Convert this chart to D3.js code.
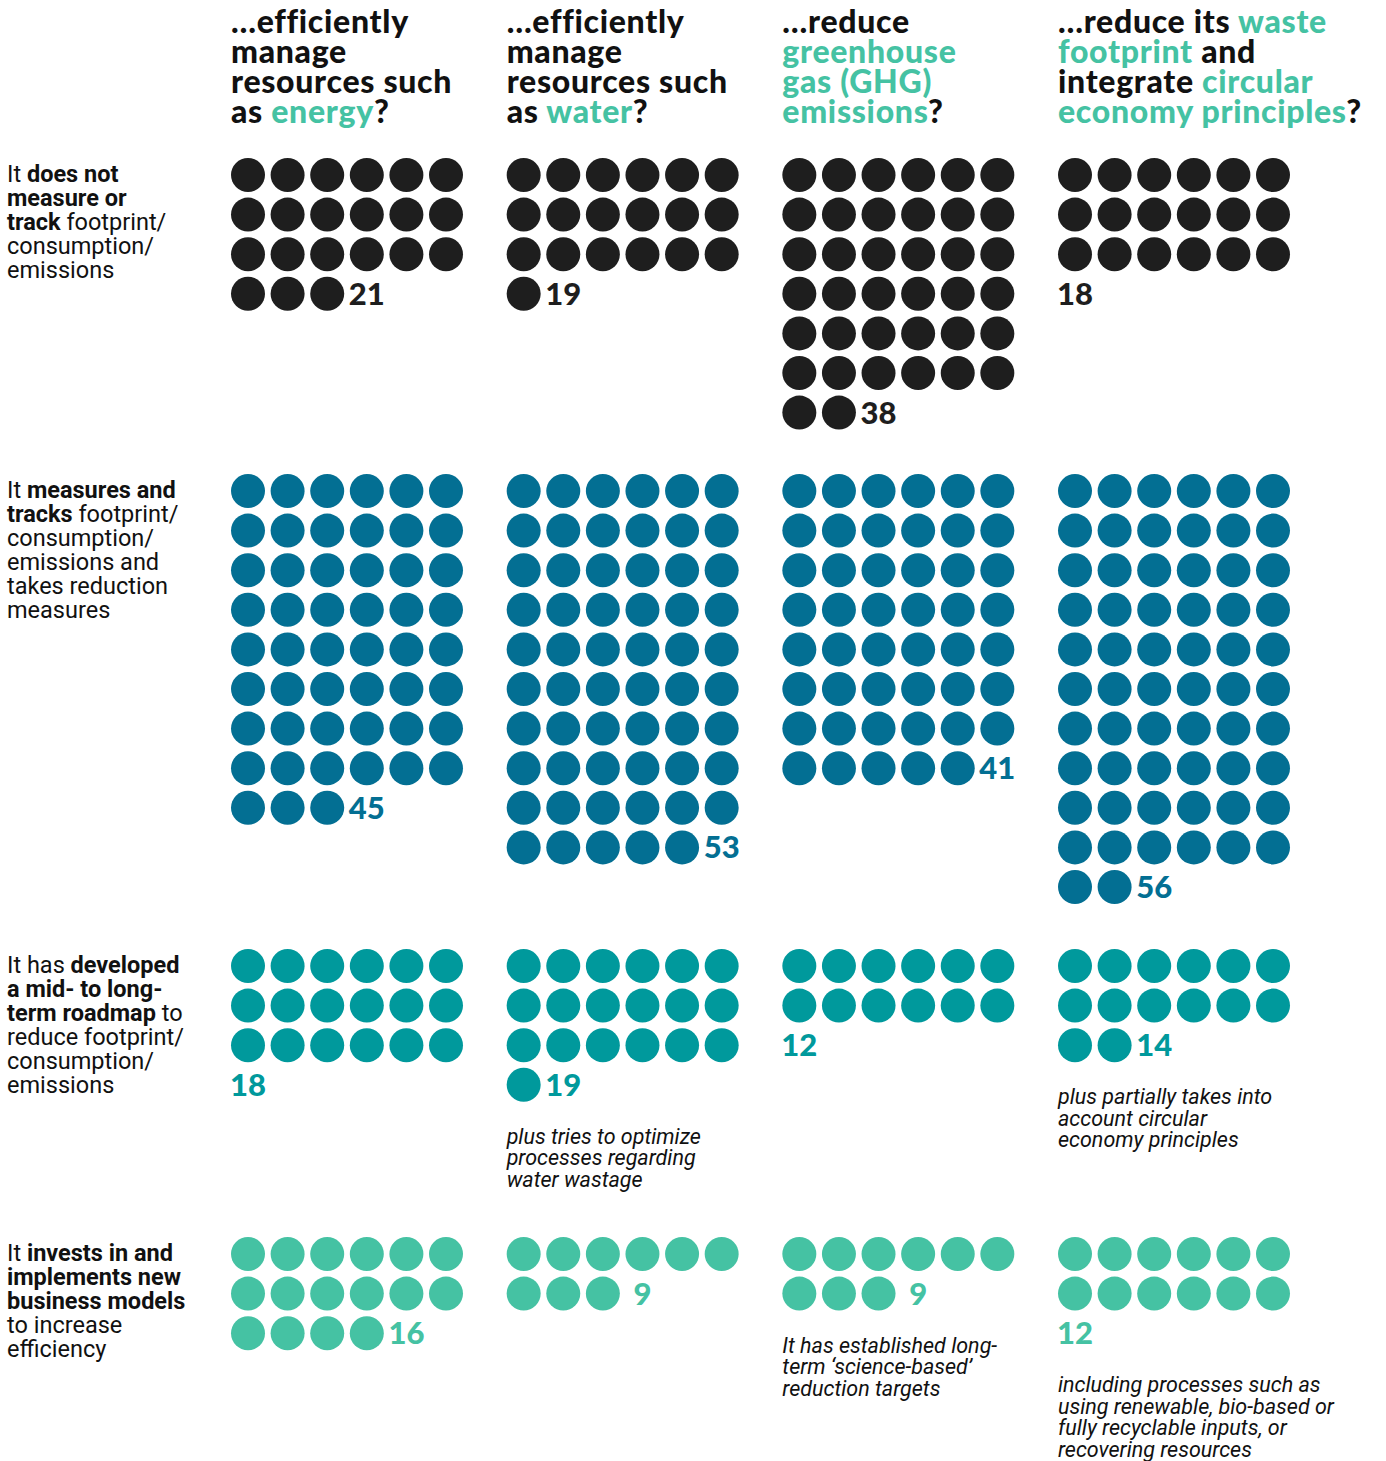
<!DOCTYPE html>
<html>
<head>
<meta charset="utf-8">
<script src="https://cdn.jsdelivr.net/npm/d3@7"></script>
<style>
  body { margin: 0; background: #fff; }
  svg { display: block; }
</style>
</head>
<body>
<svg id="chart"></svg>
<script>
// column questions; each line is a list of [text, highlighted]
const headers = [
    [[["…efficiently", 0]], [["manage", 0]], [["resources such", 0]], [["as ", 0], ["energy", 1], ["?", 0]]],
    [[["…efficiently", 0]], [["manage", 0]], [["resources such", 0]], [["as ", 0], ["water", 1], ["?", 0]]],
    [[["…reduce", 0]], [["greenhouse", 1]], [["gas (GHG)", 1]], [["emissions", 1], ["?", 0]]],
    [[["…reduce its ", 0], ["waste", 1]], [["footprint", 1], [" and", 0]], [["integrate ", 0], ["circular", 1]], [["economy principles", 1], ["?", 0]]]
];
// row labels; [text, bold]
const rowLabels = [
    [[["It ", 0], ["does not", 1]], [["measure or", 1]], [["track", 1], [" footprint/", 0]], [["consumption/", 0]], [["emissions", 0]]],
    [[["It ", 0], ["measures and", 1]], [["tracks", 1], [" footprint/", 0]], [["consumption/", 0]], [["emissions and", 0]], [["takes reduction", 0]], [["measures", 0]]],
    [[["It has ", 0], ["developed", 1]], [["a mid- to long-", 1]], [["term roadmap", 1], [" to", 0]], [["reduce footprint/", 0]], [["consumption/", 0]], [["emissions", 0]]],
    [[["It ", 0], ["invests in and", 1]], [["implements new", 1]], [["business models", 1]], [["to increase", 0]], [["efficiency", 0]]]
];
const rowColors = ["#1e1e1e", "#036f93", "#00999c", "#45c2a3"];

// values shown per stage, per column
const doesNotMeasure = [21, 19, 38, 18];
const measuresTracks = [45, 53, 41, 56];
const hasRoadmap = [18, 19, 12, 14];
const newModels = [16, 9, 9, 12];
// dots drawn in the picture (stage 2 shows six more dots than its label)
const doesNotMeasureDots = [21, 19, 38, 18];
const measuresTracksDots = [51, 59, 47, 62];
const hasRoadmapDots = [18, 19, 12, 14];
const newModelsDots = [16, 9, 9, 12];

const notes = [
    { row: 2, col: 1, lines: ["plus tries to optimize", "processes regarding", "water wastage"] },
    { row: 2, col: 3, lines: ["plus partially takes into", "account circular", "economy principles"] },
    { row: 3, col: 2, lines: ["It has established long-", "term \u2018science-based\u2019", "reduction targets"] },
    { row: 3, col: 3, lines: ["including processes such as", "using renewable, bio-based or", "fully recyclable inputs, or", "recovering resources"] }
];

const values = [doesNotMeasure, measuresTracks, hasRoadmap, newModels];
const dotCounts = [doesNotMeasureDots, measuresTracksDots, hasRoadmapDots, newModelsDots];

const W = 1386, H = 1461;
const perRow = 6, r = 17, step = 39.6;
const blockTop = [175, 491, 966, 1254];

const svg = d3.select("#chart").attr("width", W).attr("height", H);

const colX = d3.scaleLinear().domain([0, 3]).range([248, 1075]);
const slotX = d3.scaleLinear().domain([0, perRow - 1]).range([0, step * (perRow - 1)]);

// headers
headers.forEach((lines, c) => {
    const t = svg.append("text")
        .style("font-family", "Lato, sans-serif")
        .style("font-weight", 900)
        .style("font-size", "32px")
        .style("letter-spacing", "0.7px");
    lines.forEach((parts, i) => {
        parts.forEach((p, j) => {
            const s = t.append("tspan").text(p[0]).attr("fill", p[1] ? "#45c2a3" : "#111");
            if (j === 0) s.attr("x", colX(c) - r).attr("y", 33 + i * 30);
        });
    });
});

// row labels
rowLabels.forEach((lines, ri) => {
    const t = svg.append("text")
        .style("font-family", "Roboto, sans-serif")
        .style("font-size", "23.5px")
        .attr("fill", "#111");
    lines.forEach((parts, i) => {
        parts.forEach((p, j) => {
            const s = t.append("tspan").text(p[0]).style("font-weight", p[1] ? 700 : 400);
            if (j === 0) s.attr("x", 7).attr("y", blockTop[ri] + 7 + i * 24);
        });
    });
});

// dots and numbers
values.forEach((vals, ri) => {
    vals.forEach((v, c) => {
        const n = dotCounts[ri][c];
        const g = svg.append("g").attr("transform", `translate(${colX(c)},${blockTop[ri]})`);
        g.selectAll("circle")
            .data(d3.range(n))
            .join("circle")
            .attr("cx", d => slotX(d % perRow))
            .attr("cy", d => Math.floor(d / perRow) * step)
            .attr("r", r)
            .attr("fill", rowColors[ri]);
        g.append("text")
            .attr("x", slotX(n % perRow))
            .attr("y", Math.floor(n / perRow) * step + 11)
            .attr("text-anchor", "middle")
            .attr("fill", rowColors[ri])
            .style("font-family", "Lato, sans-serif")
            .style("font-weight", 900)
            .style("font-size", "31px")
            .text(v);
    });
});

// italic notes under some cells
notes.forEach(nt => {
    const n = dotCounts[nt.row][nt.col];
    const lastY = blockTop[nt.row] + Math.floor(n / perRow) * step;
    svg.append("text")
        .style("font-family", "Roboto, sans-serif")
        .style("font-style", "italic")
        .style("font-size", "21.5px")
        .attr("fill", "#111")
        .selectAll("tspan")
        .data(nt.lines)
        .join("tspan")
        .attr("x", colX(nt.col) - r)
        .attr("y", (d, i) => lastY + 59 + i * 21.5)
        .text(d => d);
});
</script>
</body>
</html>
